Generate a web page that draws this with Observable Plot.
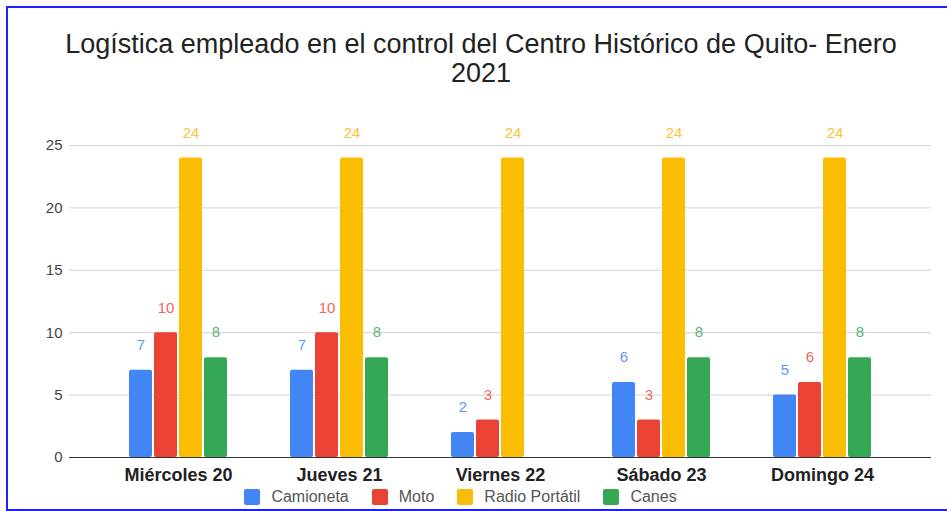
<!DOCTYPE html>
<html>
<head>
<meta charset="utf-8">
<script src="https://cdn.jsdelivr.net/npm/d3@7"></script>
<script src="https://cdn.jsdelivr.net/npm/@observablehq/plot@0.6"></script>
<style>
html,body{margin:0;padding:0;background:#fff;overflow:hidden;width:947px;height:511px;}
body{font-family:"Liberation Sans",Arial,sans-serif;position:relative;}
.bl{position:absolute;background:#1e1eff;}
#title{position:absolute;left:0;top:30px;width:962px;text-align:center;font-size:27px;line-height:29px;color:#222;}
.layer{position:absolute;left:0;top:100px;}
#legend{position:absolute;left:0;top:489px;width:921px;height:16px;display:flex;justify-content:center;align-items:center;font-size:16px;color:#555;}
#legend .item{display:flex;align-items:center;margin:0 11.5px;}
#legend .sw{width:16px;height:16px;border-radius:2px;margin-right:11px;}
</style>
</head>
<body>
<div class="bl" style="left:6px;top:6px;width:941px;height:2px;"></div>
<div class="bl" style="left:6px;top:6px;width:2px;height:505px;"></div>
<div class="bl" style="left:6px;top:509px;width:941px;height:2px;"></div>
<div id="title">Logística empleado en el control del Centro Histórico de Quito- Enero<br>2021</div>
<div id="grid" class="layer"></div>
<div id="chart" class="layer"></div>
<div id="base" class="layer"></div>
<div id="legend"></div>
<script>
const days = ["Miércoles 20", "Jueves 21", "Viernes 22", "Sábado 23", "Domingo 24"];
const series = ["Camioneta", "Moto", "Radio Portátil", "Canes"];
const camioneta = [7, 7, 2, 6, 5];
const moto = [10, 10, 3, 3, 6];
const radio = [24, 24, 24, 24, 24];
const canes = [8, 8, null, 8, 8];
const yTicks = [0, 5, 10, 15, 20, 25];

const barColors = ["#4285F4", "#EA4335", "#FBBC04", "#34A853"];
const labelColors = ["#5e97f6", "#ee675c", "#fcc43a", "#5bb974"];

const values = [camioneta, moto, radio, canes];
const data = days.flatMap((d, i) => series.map((s, j) => ({
  day: d, series: s, value: values[j][i],
  fill: barColors[j], lab: labelColors[j]
}))).filter(d => d.value != null);

const font = '"Liberation Sans", Arial, sans-serif';
const dims = {width: 947, height: 385, marginLeft: 69, marginRight: 16, marginTop: 45, marginBottom: 28};
const yScale = {domain: [0, 25], axis: null};

// background: gridlines + y tick labels
const grid = Plot.plot({
  ...dims,
  style: {fontFamily: font, background: "transparent", overflow: "visible"},
  y: yScale,
  marks: [
    Plot.ruleY(yTicks.filter(t => t > 0), {y: d => d, stroke: "#d3d3d3", strokeWidth: 1}),
    Plot.text(yTicks, {y: d => d, text: d => String(d), frameAnchor: "left", dx: -7, textAnchor: "end", fontSize: 15, fill: "#444"})
  ]
});
document.getElementById("grid").appendChild(grid);

// bars grouped by day
const chart = Plot.plot({
  ...dims,
  style: {fontFamily: font, background: "transparent", overflow: "visible"},
  fx: {domain: days, paddingInner: 0.38, paddingOuter: 0.36, label: null, axis: null},
  x: {domain: series, paddingInner: 0.1, paddingOuter: 0, axis: null},
  y: yScale,
  color: {type: "identity"},
  marks: [
    Plot.barY(data, {fx: "day", x: "series", y: "value", fill: "fill", rx: 2}),
    Plot.text(data, {fx: "day", x: "series", y: "value", text: d => String(d.value), dy: -25, lineAnchor: "middle", fill: "lab", fontSize: 15}),
    Plot.axisFx({anchor: "bottom", tickSize: 0, tickPadding: 11, fontSize: 18, fontWeight: "bold", fill: "#222", label: null})
  ]
});
document.getElementById("chart").appendChild(chart);

// baseline on top
const base = Plot.plot({
  ...dims,
  style: {background: "transparent", overflow: "visible"},
  y: yScale,
  marks: [Plot.ruleY([0], {stroke: "#333", strokeWidth: 1.2})]
});
document.getElementById("base").appendChild(base);

const legend = document.getElementById("legend");
series.forEach((s, j) => {
  const it = document.createElement("div");
  it.className = "item";
  const sw = document.createElement("div");
  sw.className = "sw";
  sw.style.background = barColors[j];
  const tx = document.createElement("span");
  tx.textContent = s;
  it.appendChild(sw);
  it.appendChild(tx);
  legend.appendChild(it);
});
</script>
</body>
</html>
